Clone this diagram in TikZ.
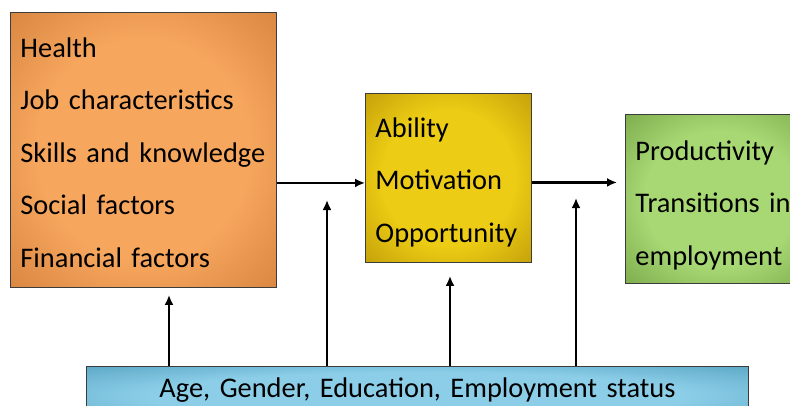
\documentclass[tikz,border=0pt]{standalone}
\usepackage{fontspec}
\setmainfont{Carlito}
\usetikzlibrary{arrows.meta}
\usetikzlibrary{positioning}
\definecolor{orangein}{HTML}{F7A65E}
\definecolor{orangeout}{HTML}{D88640}
\definecolor{yellowin}{HTML}{ECCC14}
\definecolor{yellowout}{HTML}{C4A00A}
\definecolor{greenin}{HTML}{A8D874}
\definecolor{greenout}{HTML}{7CAC4C}
\definecolor{bluein}{HTML}{8CCEE8}
\definecolor{blueout}{HTML}{5CA8C6}
\definecolor{edgegray}{HTML}{3C3C3C}
\colorlet{boxin}{white}
\colorlet{boxout}{gray}
\pgfdeclareradialshading[boxin,boxout]{vignette}{\pgfpoint{0bp}{0bp}}{color(0bp)=(boxin); color(20bp)=(boxin); color(36bp)=(boxout); color(50bp)=(boxout)}

\begin{document}
\begin{tikzpicture}[x=1pt,y=-1pt,->,>={Latex[length=10pt,width=9pt]},
    line width=2.2pt,
    main box/.style={rectangle,draw=edgegray,line width=0.9pt,anchor=north west,
      inner xsep=10pt,inner ysep=0pt,align=left,shading=vignette,shade,
      font=\fontsize{28.4}{52.5}\selectfont},
    factor box/.style={main box,/utils/exec={\colorlet{boxin}{orangein}\colorlet{boxout}{orangeout}}},
    amo box/.style={main box,/utils/exec={\colorlet{boxin}{yellowin}\colorlet{boxout}{yellowout}}},
    outcome box/.style={main box,/utils/exec={\colorlet{boxin}{greenin}\colorlet{boxout}{greenout}}},
    demog box/.style={main box,align=center,/utils/exec={\colorlet{boxin}{bluein}\colorlet{boxout}{blueout}}}]
    \useasboundingbox (0,0) rectangle (790,405);
    \clip (0,0) rectangle (790,405);
    \begin{scope}
      \node[factor box,minimum width=266pt,minimum height=275pt,text width=246pt,
        text height=45pt,text depth=230pt] (factors) at (10,12)
        {Health\\Job characteristics\\Skills and knowledge\\Social factors\\Financial factors};
      \node[amo box,minimum width=166pt,minimum height=169pt,text width=146pt,
        text height=44pt,text depth=125pt] (amo) at (365,93)
        {Ability\\Motivation\\Opportunity};
      \node[outcome box,minimum width=190pt,minimum height=169pt,text width=170pt,
        text height=46pt,text depth=123pt] (outcomes) at (625,114)
        {Productivity\\Transitions in\\employment};
      \node[demog box,minimum width=662pt,minimum height=60pt,text width=642pt,
        text height=31pt,text depth=29pt] (demog) at (86,366)
        {Age, Gender, Education, Employment status};

      \coordinate (skillend) at (327,200);
      \coordinate (amoend) at (576,198);

      \path[->] ([yshift=-5pt]factors.east |- amo.west) edge ([yshift=-5pt]amo.west);
      \path[->] ([yshift=-4.5pt]amo.east) edge[shorten >=8pt] ([yshift=-4.5pt]outcomes.west |- amo.east);
      \path[->] (demog.north -| 169,0) edge[shorten >=7pt] (factors.south -| 169,0);
      \path[->] (demog.north -| skillend) edge (skillend);
      \path[->] (demog.north -| 450,0) edge[shorten >=13pt] (amo.south -| 450,0);
      \path[->] (demog.north -| amoend) edge (amoend);
    \end{scope}
  \end{tikzpicture}
\end{document}
